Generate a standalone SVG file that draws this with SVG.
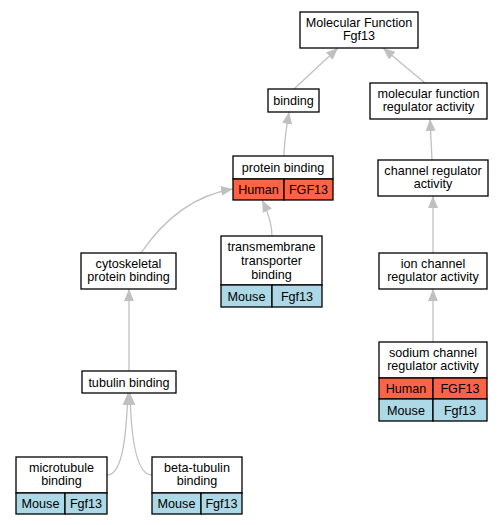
<svg xmlns="http://www.w3.org/2000/svg" width="504" height="525" viewBox="0 0 504 525">
<defs>
<style>
.box{fill:#fff;stroke:#000;stroke-width:1.3}
.h{fill:#ff6347;stroke:#000;stroke-width:1.3}
.m{fill:#add8e6;stroke:#000;stroke-width:1.3}
text{font-family:"Liberation Sans",Arial,sans-serif;font-size:12.6px;text-anchor:middle;fill:#000}
.e{fill:none;stroke:#c0c0c0;stroke-width:1.3}
</style>
<marker id="a" viewBox="0 0 12 10" refX="12" refY="5" markerWidth="12" markerHeight="10" markerUnits="userSpaceOnUse" orient="auto">
<path d="M0,0 L12,5 L0,10 Z" fill="#c0c0c0"/>
</marker>
</defs>
<rect width="504" height="525" fill="#fff"/>
<g id="edges">
<path class="e" marker-end="url(#a)" d="M294,89 L338,48"/>
<path class="e" marker-end="url(#a)" d="M425,83 L383,48"/>
<path class="e" marker-end="url(#a)" d="M432,160 L430,119"/>
<path class="e" marker-end="url(#a)" d="M433,253 L433,196"/>
<path class="e" marker-end="url(#a)" d="M433,342 L433,289"/>
<path class="e" marker-end="url(#a)" d="M284,156 C284,140 287,125 289,112"/>
<path class="e" marker-end="url(#a)" d="M141,253 C160,225 190,196 233,189"/>
<path class="e" marker-end="url(#a)" d="M272,236 C272,225 268,212 262,200"/>
<path class="e" marker-end="url(#a)" d="M129,371 L129,289"/>
<path class="e" marker-end="url(#a)" d="M107,475 C122,475 126,440 128,393"/>
<path class="e" marker-end="url(#a)" d="M152,475 C137,475 131,440 130,393"/>
</g>
<g id="mf">
<rect class="box" x="300" y="12" width="118" height="36"/>
<text x="359" y="26.5">Molecular Function</text>
<text x="359" y="40">Fgf13</text>
</g>
<g id="binding">
<rect class="box" x="268" y="89" width="51" height="23"/>
<text x="293.5" y="105">binding</text>
</g>
<g id="mfra">
<rect class="box" x="370" y="83" width="117" height="36"/>
<text x="428.5" y="97.5">molecular function</text>
<text x="428.5" y="111">regulator activity</text>
</g>
<g id="protein_binding">
<rect class="box" x="233" y="156" width="100" height="23"/>
<rect class="h" x="233" y="179" width="51" height="21"/>
<rect class="h" x="284" y="179" width="49" height="21"/>
<text x="283" y="171.5">protein binding</text>
<text x="258.5" y="194">Human</text>
<text x="308.5" y="194">FGF13</text>
</g>
<g id="transmembrane">
<rect class="box" x="221" y="236" width="101" height="49"/>
<rect class="m" x="221" y="285" width="51" height="22"/>
<rect class="m" x="272" y="285" width="50" height="22"/>
<text x="271.5" y="251">transmembrane</text>
<text x="271.5" y="265">transporter</text>
<text x="271.5" y="279">binding</text>
<text x="246.5" y="300.5">Mouse</text>
<text x="297" y="300.5">Fgf13</text>
</g>
<g id="cytoskeletal">
<rect class="box" x="81" y="253" width="95" height="36"/>
<text x="128.5" y="267.5">cytoskeletal</text>
<text x="128.5" y="281">protein binding</text>
</g>
<g id="tubulin">
<rect class="box" x="82" y="371" width="94" height="22"/>
<text x="129" y="386.5">tubulin binding</text>
</g>
<g id="channel">
<rect class="box" x="378" y="160" width="110" height="36"/>
<text x="433" y="174.5">channel regulator</text>
<text x="433" y="188">activity</text>
</g>
<g id="ion">
<rect class="box" x="379" y="253" width="108" height="36"/>
<text x="433" y="267.5">ion channel</text>
<text x="433" y="281">regulator activity</text>
</g>
<g id="sodium">
<rect class="box" x="379" y="342" width="108" height="36"/>
<rect class="h" x="379" y="378" width="54" height="21"/>
<rect class="h" x="433" y="378" width="54" height="21"/>
<rect class="m" x="379" y="399" width="54" height="22"/>
<rect class="m" x="433" y="399" width="54" height="22"/>
<text x="433" y="356.5">sodium channel</text>
<text x="433" y="370">regulator activity</text>
<text x="406" y="393">Human</text>
<text x="460" y="393">FGF13</text>
<text x="406" y="414.5">Mouse</text>
<text x="460" y="414.5">Fgf13</text>
</g>
<g id="microtubule">
<rect class="box" x="16" y="457" width="91" height="36"/>
<rect class="m" x="16" y="493" width="49" height="21"/>
<rect class="m" x="65" y="493" width="42" height="21"/>
<text x="61.5" y="471.5">microtubule</text>
<text x="61.5" y="485">binding</text>
<text x="40.5" y="508">Mouse</text>
<text x="86" y="508">Fgf13</text>
</g>
<g id="beta_tubulin">
<rect class="box" x="152" y="457" width="90" height="36"/>
<rect class="m" x="152" y="493" width="49" height="21"/>
<rect class="m" x="201" y="493" width="41" height="21"/>
<text x="197" y="471.5">beta-tubulin</text>
<text x="197" y="485">binding</text>
<text x="176.5" y="508">Mouse</text>
<text x="221.5" y="508">Fgf13</text>
</g>
</svg>
